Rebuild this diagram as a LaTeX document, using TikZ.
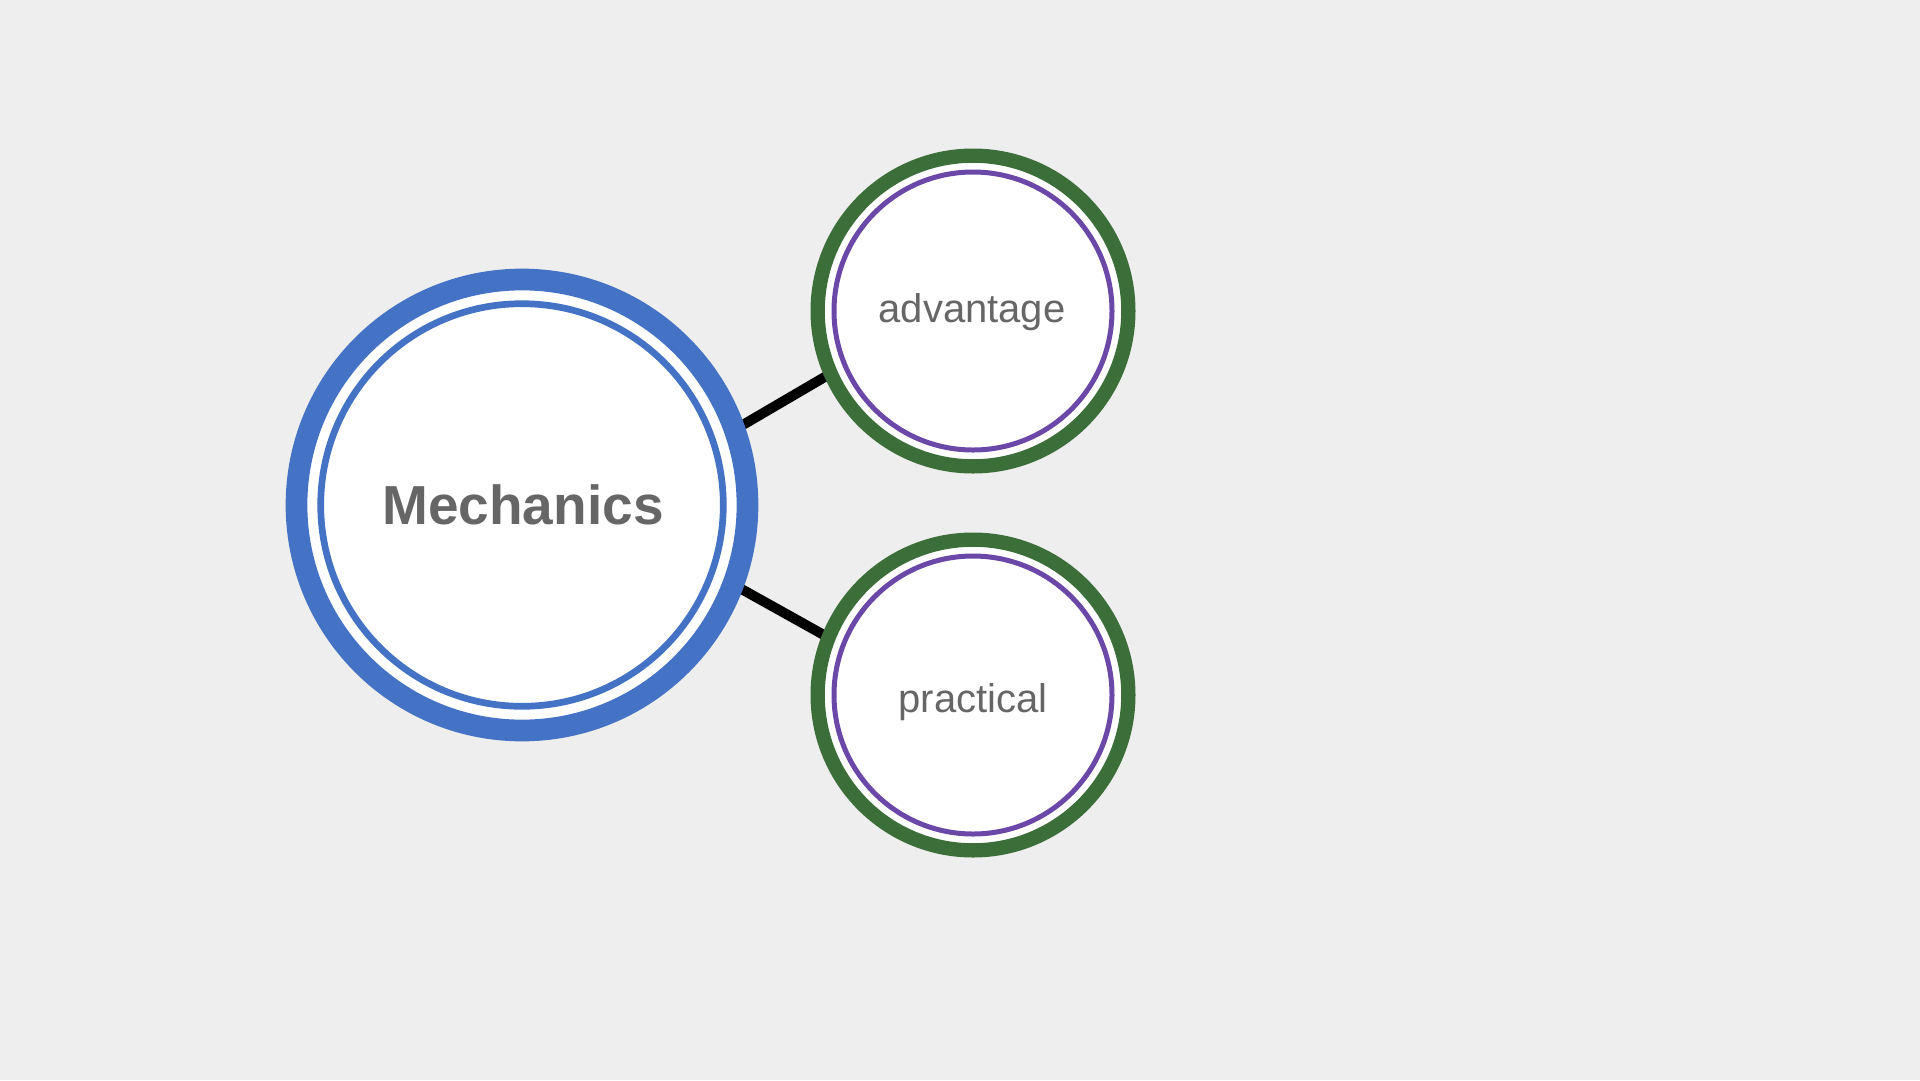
\documentclass[tikz,border=0pt]{standalone}
\usepackage{fontspec}
\setmainfont{Liberation Sans}
\usetikzlibrary{backgrounds}
\definecolor{bgc}{HTML}{EEEEEE}
\definecolor{mblue}{HTML}{4472C4}
\definecolor{cgreen}{HTML}{3C6E3A}
\definecolor{cpurple}{HTML}{6B47A8}
\definecolor{tgray}{HTML}{666666}
\tikzset{
  mainouter/.style={circle, draw=mblue, fill=white, line width=21.7pt, minimum size=451pt, inner sep=0pt},
  maininner/.style={circle, draw=mblue, line width=6.7pt, minimum size=402.6pt, inner sep=0pt},
  maintext/.style={text=tgray, font=\fontsize{55}{60}\selectfont\bfseries, inner sep=0pt},
  subouter/.style={circle, draw=cgreen, fill=white, line width=14.3pt, minimum size=310.7pt, inner sep=0pt},
  subinner/.style={circle, draw=cpurple, line width=5pt, minimum size=278pt, inner sep=0pt},
  subtext/.style={text=tgray, font=\fontsize{40}{48}\selectfont, inner sep=0pt},
  link/.style={line width=10pt, black, shorten <=-6pt, shorten >=-6pt}
}
\begin{document}
\begin{tikzpicture}[x=1pt, y=-1pt]
  \useasboundingbox (0,0) rectangle (1920,1080);
  \node[mainouter] (M) at (522,505) {};
  \node[maininner] (Mi) at (522,505) {};
  \node[maintext] (Mt) at (523,505) {Mechanics};
  \node[subouter] (A) at (973,311) {};
  \node[subinner] (Ai) at (973,311) {};
  \node[subtext] (At) at (972,312) {advantage};
  \node[subouter] (P) at (973,695) {};
  \node[subinner] (Pi) at (973,695) {};
  \node[subtext] (Pt) at (973,702) {practical};
  \begin{scope}[on background layer]
    \fill[bgc] (0,0) rectangle (1920,1080);
    \draw[link] (M.20) -- (A.204.5);
    \draw[link] (M.-21) -- (P.158.4);
  \end{scope}
\end{tikzpicture}
\end{document}
